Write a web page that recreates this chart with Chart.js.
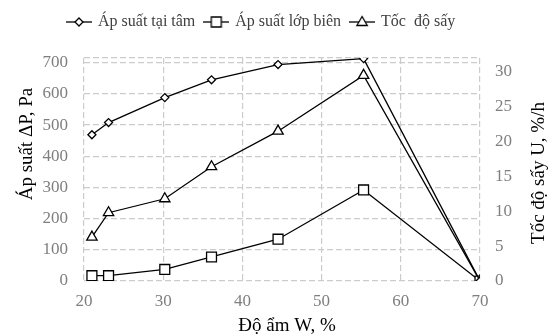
<!DOCTYPE html>
<html>
<head>
<meta charset="utf-8">
<script src="https://cdn.jsdelivr.net/npm/chart.js@4"></script>
<style>
  html, body { margin: 0; padding: 0; background: #fff; }
  #wrap { width: 554px; height: 336px; }
</style>
</head>
<body>
<div id="wrap"><canvas id="myChart"></canvas></div>
<script>
// do am W, %
const moisture = [21, 23.1, 30.2, 36.1, 44.5, 55.3, 70];
// ap suat (truc trai)
const centerPressure = [469, 508, 588, 645, 694, 713, 0];
const boundaryPressure = [17, 17, 37, 77, 134, 292, 0];
// toc do say (truc phai)
const dryingRate = [6.3, 9.8, 11.8, 16.4, 21.5, 29.5, 0];

const seriesNames = ["Áp suất tại tâm", "Áp suất lớp biên", "Tốc  độ sấy"];
const leftTicks = [0, 100, 200, 300, 400, 500, 600, 700];
const rightTicks = [0, 5, 10, 15, 20, 25, 30];
const xTitle = "Độ ẩm W, %";
const leftTitle = "Áp suất ΔP, Pa";
const rightTitle = "Tốc độ sấy U, %/h";

const FONT = "'Liberation Serif', 'Times New Roman', serif";

function toPoints(ys){
    return moisture.map((x, i) => ({x: x, y: ys[i]}));
}

// icon cho chu thich: duong ngang + marker
function makeIcon(shape){
    const c = document.createElement("canvas");
    c.width = 26; c.height = 14;
    const g = c.getContext("2d");
    g.strokeStyle = "#000"; g.lineWidth = 1.3; g.fillStyle = "#fff";
    g.beginPath(); g.moveTo(0, 7); g.lineTo(26, 7); g.stroke();
    g.beginPath();
    if (shape === "diamond") {
        g.moveTo(13, 3); g.lineTo(17, 7); g.lineTo(13, 11); g.lineTo(9, 7); g.closePath();
    } else if (shape === "square") {
        g.rect(8, 2, 10, 10);
    } else {
        g.moveTo(13, 1.5); g.lineTo(18.2, 10.5); g.lineTo(7.8, 10.5); g.closePath();
    }
    g.fill(); g.stroke();
    return c;
}
const icons = [makeIcon("diamond"), makeIcon("square"), makeIcon("triangle")];

// chu thich cao hon de day vung ve xuong, va dich sang trai
const legendSpace = {
    id: "legendSpace",
    beforeInit(chart){
        const fit = chart.legend.fit;
        chart.legend.fit = function(){
            fit.bind(chart.legend)();
            this.height += 18;
        };
    },
    beforeDraw(chart){
        const lg = chart.legend;
        // bat dau o x = 68 (can giua)
        lg.lineWidths[0] = lg.left + lg.right + 10 - 2 * 68;
    }
};

const titlesPlugin = {
    id: "axisTitles",
    afterDraw(chart){
        const ctx = chart.ctx;
        ctx.save();
        ctx.fillStyle = "#000";
        ctx.font = "19px " + FONT;
        ctx.textAlign = "center";
        ctx.textBaseline = "middle";
        // tieu de truc x
        ctx.fillText(xTitle, 287, 326);
        // truc trai
        ctx.save();
        ctx.translate(27, 144);
        ctx.rotate(-Math.PI / 2);
        ctx.fillText(leftTitle, 0, 0);
        ctx.restore();
        // truc phai
        ctx.save();
        ctx.translate(539, 173);
        ctx.rotate(-Math.PI / 2);
        ctx.fillText(rightTitle, 0, 0);
        ctx.restore();
        ctx.restore();
    }
};

const lineStyle = {
    borderColor: "#000",
    borderWidth: 1.3,
    pointBackgroundColor: "#fff",
    pointBorderColor: "#000",
    pointBorderWidth: 1.3,
    tension: 0
};

const gridOpts = {color: "#cccccc", lineWidth: 1.2, drawTicks: false};
const borderOpts = {display: false, dash: [6, 3]};

new Chart("myChart", {
    type: "line",
    data: {
        datasets: [
            Object.assign({label: seriesNames[0], data: toPoints(centerPressure), yAxisID: "y",
                pointStyle: "rectRot", pointRadius: 4}, lineStyle),
            Object.assign({label: seriesNames[1], data: toPoints(boundaryPressure), yAxisID: "y",
                pointStyle: "rect", pointRadius: 7}, lineStyle),
            Object.assign({label: seriesNames[2], data: toPoints(dryingRate), yAxisID: "y2",
                pointStyle: "triangle", pointRadius: 6}, lineStyle)
        ]
    },
    options: {
        responsive: true,
        maintainAspectRatio: false,
        animation: false,
        layout: {padding: {left: 0, right: 0, top: 4, bottom: 0}},
        plugins: {
            tooltip: {enabled: false},
            legend: {
                display: true,
                position: "top",
                labels: {
                    usePointStyle: true,
                    pointStyleWidth: 22,
                    padding: 10,
                    color: "#404040",
                    font: {family: FONT, size: 16},
                    generateLabels(chart){
                        return chart.data.datasets.map((ds, i) => ({
                            text: ds.label,
                            pointStyle: icons[i],
                            datasetIndex: i,
                            fillStyle: "#fff",
                            strokeStyle: "#000",
                            lineWidth: 0,
                            hidden: false,
                            fontColor: "#404040"
                        }));
                    }
                }
            }
        },
        scales: {
            x: {
                type: "linear",
                min: 20, max: 70,
                afterFit(scale){ scale.height = 55; },
                ticks: {stepSize: 10, color: "#7f7f7f", font: {family: FONT, size: 17}, padding: 10},
                grid: gridOpts,
                border: borderOpts
            },
            y: {
                position: "left",
                min: 0, max: 715,
                afterFit(scale){ scale.width = 84; },
                afterBuildTicks(scale){
                    scale.ticks = leftTicks.concat([715]).map(v => ({value: v}));
                },
                ticks: {
                    color: "#7f7f7f", font: {family: FONT, size: 17}, padding: 16,
                    callback: v => (leftTicks.includes(v) ? String(v) : "")
                },
                grid: gridOpts,
                border: borderOpts
            },
            y2: {
                position: "right",
                min: 0, max: 32,
                afterFit(scale){ scale.width = 74; },
                afterBuildTicks(scale){
                    scale.ticks = rightTicks.map(v => ({value: v}));
                },
                ticks: {color: "#7f7f7f", font: {family: FONT, size: 17}, padding: 15},
                grid: {display: false, drawTicks: false},
                border: {display: false}
            }
        }
    },
    plugins: [legendSpace, titlesPlugin]
});
</script>
</body>
</html>
